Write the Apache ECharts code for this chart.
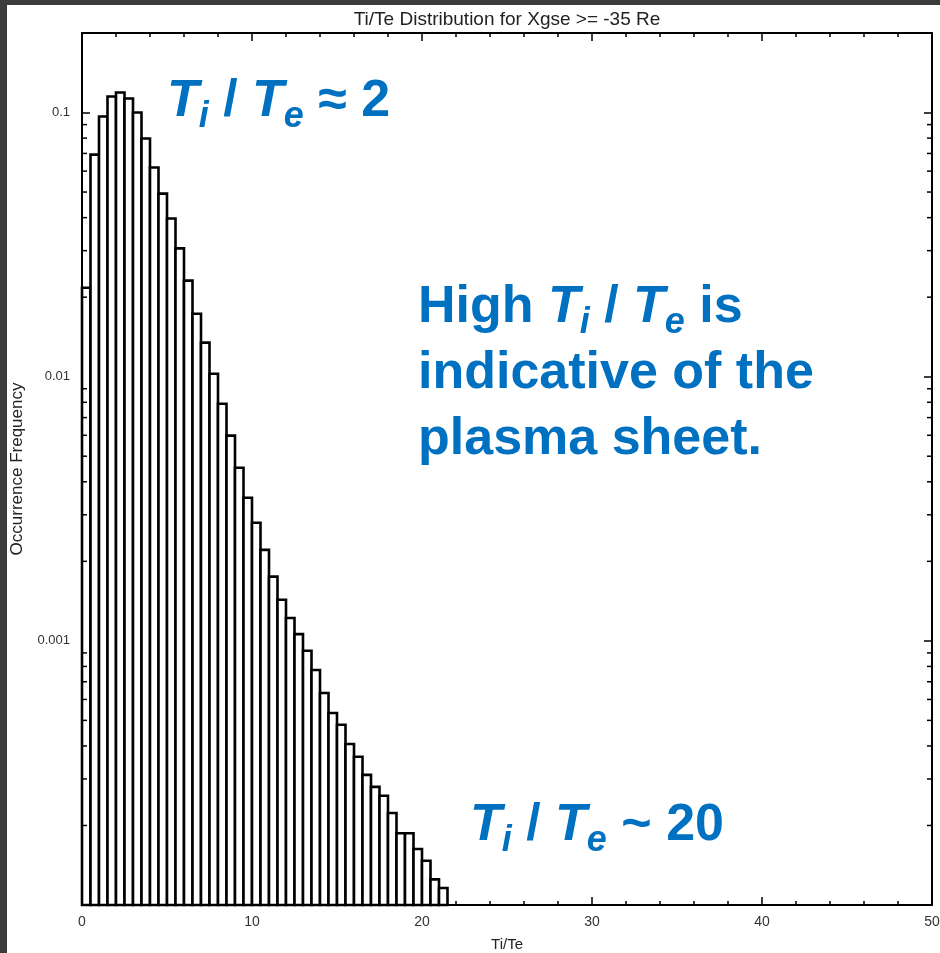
<!DOCTYPE html>
<html>
<head>
<meta charset="utf-8">
<script src="https://cdn.jsdelivr.net/npm/echarts@6/dist/echarts.min.js"></script>
<style>
  html, body { margin: 0; padding: 0; background: #3c3c3c; }
  #frame { position: absolute; left: 0; top: 0; width: 940px; height: 953px; background: #3c3c3c; }
  #chart { position: absolute; left: 7px; top: 5px; width: 933px; height: 948px; background: #ffffff; }
</style>
</head>
<body>
<div id="frame"><div id="chart"></div></div>
<script>
// Histogram bins of Ti/Te (left edges, width 0.5)
const binWidth = 0.5;
const binStarts = [
  0, 0.5, 1, 1.5, 2, 2.5, 3, 3.5, 4, 4.5,
  5, 5.5, 6, 6.5, 7, 7.5, 8, 8.5, 9, 9.5,
  10, 10.5, 11, 11.5, 12, 12.5, 13, 13.5, 14, 14.5,
  15, 15.5, 16, 16.5, 17, 17.5, 18, 18.5, 19, 19.5,
  20, 20.5, 21
];
// Occurrence frequency per bin
const occurrence = [
  0.0217, 0.0693, 0.0966, 0.115, 0.119, 0.113, 0.100, 0.0797, 0.0619, 0.0493,
  0.0397, 0.0306, 0.0231, 0.0173, 0.01346, 0.01026, 0.0079, 0.00598, 0.00452, 0.00348,
  0.0028, 0.00221, 0.00175, 0.00143, 0.00122, 0.00106, 0.000917, 0.000776, 0.000635, 0.000533,
  0.000481, 0.000407, 0.000364, 0.000311, 0.00028, 0.000259, 0.000223, 0.000187, 0.000187, 0.000163,
  0.000147, 0.000125, 0.000116
];

// Axis ranges and ticks
const xRange = [0, 50];
const xMajorStep = 10;
const yRange = [0.0001, 0.2];
const yDecades = [0.0001, 0.001, 0.01, 0.1];
const yMinorFactors = [2, 3, 4, 5, 6, 7, 8, 9];

const TITLE = 'Ti/Te Distribution for Xgse >= -35 Re';
const X_NAME = 'Ti/Te';
const Y_NAME = 'Occurrence Frequency';

const BLUE = '#0070c0';
const FONT = 'Liberation Sans, Arial, Helvetica, sans-serif';

const yMinorValues = [];
yDecades.forEach(d => yMinorFactors.forEach(f => {
  const v = +(d * f).toPrecision(6);
  if (v < yRange[1]) yMinorValues.push(v);
}));

const barData = binStarts.map((s, i) => [s, s + binWidth, occurrence[i]]);

const richStyles = {
  t: { fontFamily: FONT, fontSize: 52, fontWeight: 'bold', fontStyle: 'italic', fill: BLUE, lineHeight: 66 },
  n: { fontFamily: FONT, fontSize: 52, fontWeight: 'bold', fontStyle: 'normal', fill: BLUE, lineHeight: 66 },
  s: { fontFamily: FONT, fontSize: 36, fontWeight: 'bold', fontStyle: 'italic', fill: BLUE, lineHeight: 14, verticalAlign: 'bottom' }
};

function axisCommon() {
  return {
    axisLine: { show: true, onZero: false, lineStyle: { color: '#000', width: 2 } },
    axisTick: { show: true, inside: true, length: 8, lineStyle: { color: '#000', width: 1.5 } },
    splitLine: { show: false }
  };
}

const chart = echarts.init(document.getElementById('chart'), null, { renderer: 'canvas' });

chart.setOption({
  animation: false,
  backgroundColor: '#ffffff',
  grid: { left: 75, right: 8, top: 28, bottom: 48, containLabel: false, outerBoundsMode: 'none' },
  xAxis: [
    Object.assign(axisCommon(), {
      type: 'value', position: 'bottom', min: xRange[0], max: xRange[1], interval: xMajorStep,
      name: X_NAME, nameLocation: 'middle', nameGap: 32,
      nameTextStyle: { fontFamily: FONT, fontSize: 15, color: '#222' },
      minorTick: { show: true, splitNumber: 5, length: 4, lineStyle: { color: '#000', width: 1.5 } },
      axisLabel: { show: true, margin: 10, fontFamily: FONT, fontSize: 14, color: '#333' }
    }),
    Object.assign(axisCommon(), {
      type: 'value', position: 'top', min: xRange[0], max: xRange[1], interval: xMajorStep,
      minorTick: { show: true, splitNumber: 5, length: 4, lineStyle: { color: '#000', width: 1.5 } },
      axisLabel: { show: false }
    })
  ],
  yAxis: [
    Object.assign(axisCommon(), {
      type: 'log', logBase: 10, position: 'left', min: yRange[0], max: yRange[1],
      name: Y_NAME, nameLocation: 'middle', nameGap: 56, nameRotate: 90,
      nameTextStyle: { fontFamily: FONT, fontSize: 17, color: '#222' },
      axisLabel: {
        show: true, margin: 12, fontFamily: FONT, fontSize: 13, color: '#333',
        showMinLabel: false, showMaxLabel: false,
        formatter: v => String(parseFloat((+v).toPrecision(6)))
      }
    }),
    Object.assign(axisCommon(), {
      type: 'log', logBase: 10, position: 'right', min: yRange[0], max: yRange[1],
      axisLabel: { show: false }
    })
  ],
  series: [
    {
      type: 'custom',
      name: 'histogram',
      xAxisIndex: 0, yAxisIndex: 0,
      data: barData,
      encode: { x: [0, 1], y: 2 },
      renderItem: function (params, api) {
        const topLeft = api.coord([api.value(0), api.value(2)]);
        const bottomRight = api.coord([api.value(1), yRange[0]]);
        return {
          type: 'rect',
          shape: {
            x: topLeft[0], y: topLeft[1],
            width: bottomRight[0] - topLeft[0],
            height: bottomRight[1] - topLeft[1]
          },
          style: { fill: '#ffffff', stroke: '#000000', lineWidth: 2.6 }
        };
      },
      z: 3
    },
    {
      // minor log ticks on the left and right frame
      type: 'custom',
      name: 'yMinorTicks',
      xAxisIndex: 0, yAxisIndex: 0,
      data: yMinorValues.map(v => [v]),
      encode: { y: 0 },
      silent: true,
      renderItem: function (params, api) {
        const v = api.value(0);
        const l = api.coord([xRange[0], v]);
        const r = api.coord([xRange[1], v]);
        return {
          type: 'group',
          children: [
            { type: 'line', shape: { x1: l[0], y1: l[1], x2: l[0] + 5, y2: l[1] }, style: { stroke: '#000', lineWidth: 1.5 } },
            { type: 'line', shape: { x1: r[0] - 5, y1: r[1], x2: r[0], y2: r[1] }, style: { stroke: '#000', lineWidth: 1.5 } }
          ]
        };
      },
      z: 4
    }
  ],
  graphic: [
    {
      type: 'text', x: 500, y: 5, z: 10,
      style: { text: TITLE, fontFamily: FONT, fontSize: 19, fill: '#222', align: 'center', verticalAlign: 'top' }
    },
    {
      type: 'text', x: 160, y: 64, z: 10,
      style: { text: '{t|T}{s|i}{n| / }{t|T}{s|e}{n| ≈ 2}', rich: richStyles, verticalAlign: 'top' }
    },
    {
      type: 'text', x: 411, y: 270, z: 10,
      style: {
        text: '{n|High }{t|T}{s|i}{n| / }{t|T}{s|e}{n| is}\n{n|indicative of the}\n{n|plasma sheet.}',
        rich: richStyles, verticalAlign: 'top'
      }
    },
    {
      type: 'text', x: 463, y: 788, z: 10,
      style: { text: '{t|T}{s|i}{n| / }{t|T}{s|e}{n| ~ 20}', rich: richStyles, verticalAlign: 'top' }
    }
  ]
});
</script>
</body>
</html>
